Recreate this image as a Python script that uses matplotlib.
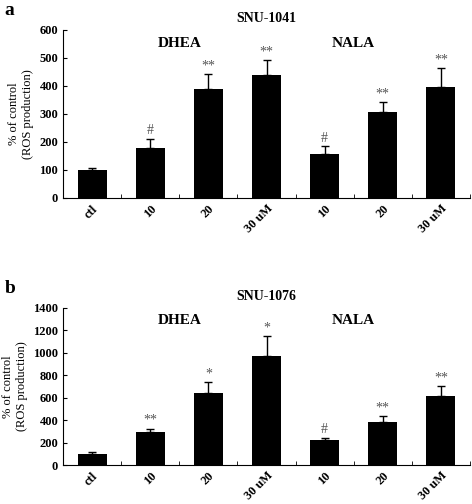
import matplotlib
matplotlib.use("Agg")
import matplotlib.pyplot as plt
import numpy as np

plt.rcParams['font.family'] = ['Liberation Serif', 'DejaVu Serif']
plt.rcParams['font.weight'] = 'bold'

categories = ['ctl', '10', '20', '30 uM', '10', '20', '30 uM']
a_vals = [100, 180, 388, 440, 158, 306, 397]
a_err = [8, 32, 55, 52, 27, 37, 67]
a_marks = ['', '#', '**', '**', '#', '**', '**']
b_vals = [100, 290, 640, 975, 220, 380, 615]
b_err = [15, 35, 100, 175, 25, 55, 90]
b_marks = ['', '**', '*', '*', '#', '**', '**']

fig = plt.figure(figsize=(4.72, 5.04), dpi=100)
W, H = 472, 504


def panel(rect, vals, errs, marks, ymax, step, title, letter):
    ax = fig.add_axes(rect)
    x = np.arange(len(vals))
    ax.bar(x, vals, width=0.5, color='black', yerr=[np.zeros(len(errs)), errs],
           error_kw=dict(ecolor='black', capsize=3, elinewidth=1))
    for xi, v, e, m in zip(x, vals, errs, marks):
        if m:
            ax.text(xi, v + e + ymax * 0.01, m, ha='center', va='bottom',
                    fontsize=10, color='#555555', fontweight='normal')
    ax.set_xlim(-0.5, len(vals) - 0.5)
    ax.set_ylim(0, ymax)
    ax.set_yticks(np.arange(0, ymax + 1, step))
    ax.tick_params(axis='y', labelsize=9, direction='in', length=3)
    ax.set_xticks(x)
    ax.set_xticklabels(categories, rotation=45, ha='right', rotation_mode='anchor', fontsize=9)
    ax.tick_params(axis='x', length=0)
    ax.set_xticks(np.arange(-0.5, len(vals)), minor=True)
    ax.tick_params(axis='x', which='minor', length=3, direction='in')
    ax.spines['top'].set_visible(False)
    ax.spines['right'].set_visible(False)
    ax.set_ylabel('% of control\n(ROS production)', fontsize=9)
    ax.text(1.5, ymax * 0.9, 'DHEA', ha='center', fontsize=11)
    ax.text(4.5, ymax * 0.9, 'NALA', ha='center', fontsize=11)
    ax.set_title(title, fontsize=10, fontweight='bold')
    fig.text(0.01, rect[1] + rect[3] + 0.03, letter, fontsize=14, fontweight='bold')
    return ax


panel([63 / W, 1 - 198 / H, 407 / W, 168 / H], a_vals, a_err, a_marks, 600, 100, 'SNU-1041', 'a')
panel([63 / W, 1 - 465 / H, 407 / W, 157 / H], b_vals, b_err, b_marks, 1400, 200, 'SNU-1076', 'b')

fig.savefig('out.png', dpi=100)
